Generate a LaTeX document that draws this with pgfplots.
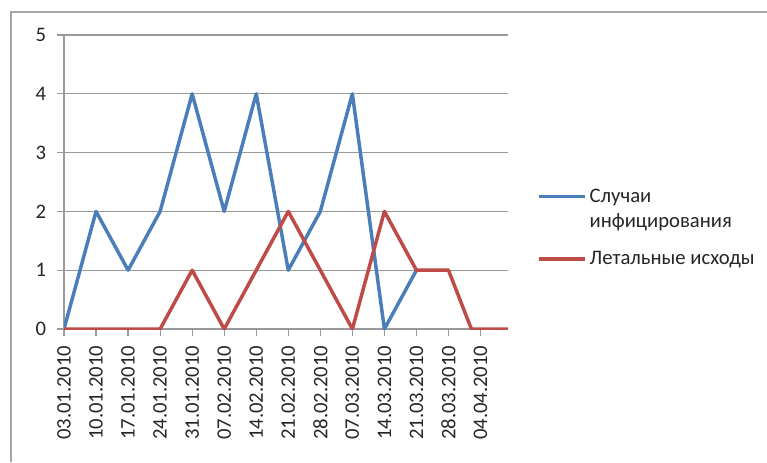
\documentclass[border=0pt]{standalone}
\usepackage{fontspec}
\setmainfont{Carlito}
\usepackage{pgfplots}
\pgfplotsset{compat=1.18}
\definecolor{xlblue}{HTML}{4A7EBB}
\definecolor{xlred}{HTML}{BE4B48}
\definecolor{gridgray}{HTML}{9A9A9A}
\definecolor{framegray}{HTML}{A6A6A6}
\pgfplotsset{
  bluelegend/.style={legend image code/.code={\draw[xlblue, line width=2.4pt] (-3pt,9.4pt) -- (32pt,9.4pt); \path (0pt,-9.4pt);}},
  redlegend/.style={legend image code/.code={\draw[xlred, line width=2.4pt] (-3pt,0pt) -- (32pt,0pt);}},
}
\begin{document}
\begin{tikzpicture}[x=0.75pt,y=0.75pt]
\useasboundingbox (0,0) rectangle (767,462);
\fill[white] (0,0) rectangle (767,462);
\draw[framegray, line width=1.5pt] (10.5,0) -- (10.5,450.5) -- (767,450.5);
\begin{axis}[
  at={(48pt,99.75pt)}, anchor=origin,
  scale only axis, width=333pt, height=220.5pt,
  xmin=0, xmax=97, ymin=0, ymax=5,
  axis lines*=left,
  axis line style={gridgray, line width=0.9pt},
  xtick={0,7,...,91},
  xticklabels={03.01.2010,10.01.2010,17.01.2010,24.01.2010,31.01.2010,07.02.2010,14.02.2010,21.02.2010,28.02.2010,07.03.2010,14.03.2010,21.03.2010,28.03.2010,04.04.2010},
  ytick={0,1,2,3,4,5},
  ymajorgrids, grid style={gridgray, line width=0.9pt},
  tick style={gridgray, line width=0.9pt},
  tick align=outside, major tick length=5.25pt,
  /pgf/number format/assume math mode=true,
  tick label style={font=\fontsize{15.5}{18}\selectfont, text=black!85},
  xticklabel style={yshift=-7pt, rotate=90, anchor=east, inner sep=0pt},
  yticklabel style={inner sep=0pt, xshift=-8pt},
  legend style={draw=none, fill=none, at={(1.056,0.344)}, anchor=west,
    font=\fontsize{15.5}{18.75}\selectfont, text=black!85,
    cells={align=left, anchor=west}, row sep=12.5pt},
  legend cell align=left,
]
\addplot[xlblue, line width=2.6pt, line join=round, bluelegend] coordinates {
(0,0) (7,2) (14,1) (21,2) (28,4) (35,2) (42,4) (49,1) (56,2) (63,4) (70,0) (77,1)};
\addlegendentry{Случаи\\инфицирования}
\addplot[xlred, line width=2.6pt, line join=round, redlegend] coordinates {
(0,0) (7,0) (14,0) (21,0) (28,1) (35,0) (42,1) (49,2) (56,1) (63,0) (70,2) (77,1) (84,1) (89,0) (97,0)};
\addlegendentry{Летальные исходы}
\end{axis}
\end{tikzpicture}
\end{document}
